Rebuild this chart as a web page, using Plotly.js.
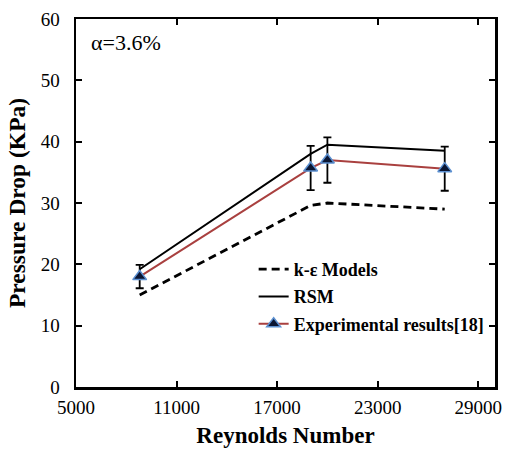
<!DOCTYPE html>
<html>
<head>
<meta charset="utf-8">
<script src="https://cdn.plot.ly/plotly-3.0.1.min.js"></script>
<style>
  html, body { margin: 0; padding: 0; background: #fff; }
  #chart { width: 509px; height: 455px; }
</style>
</head>
<body>
<div id="chart"></div>
<script>
// Reynolds numbers of the runs
const reynolds = [8800, 19000, 20000, 27000];

// Pressure drop (KPa) per model
const kEpsilon = [15.0, 29.6, 30.0, 29.0];
const rsm = [19.2, 38.0, 39.5, 38.5];

// Measured pressure drop and its uncertainty
const experimental = [18.0, 35.7, 37.0, 35.6];
const expError = [1.9, 3.6, 3.7, 3.6];

const xTicks = [5000, 11000, 17000, 23000, 29000];
const yTicks = [0, 10, 20, 30, 40, 50, 60];

const serif = 'Liberation Serif';

const traces = [
  {
    x: reynolds, y: kEpsilon, name: 'k-ε Models',
    mode: 'lines', legendgroup: 'a',
    line: { color: '#000', width: 2.8, dash: '8px,5px' }
  },
  {
    x: reynolds, y: rsm, name: 'RSM',
    mode: 'lines', legendgroup: 'b',
    line: { color: '#000', width: 2 }
  },
  {
    x: reynolds, y: experimental, name: 'Experimental results[18]',
    mode: 'lines+markers', legendgroup: 'c',
    line: { color: '#a9403f', width: 2 },
    marker: { symbol: 'triangle-up', size: 12, color: '#0b1633',
              line: { color: '#5b8fd0', width: 1.5 } },
    error_y: { type: 'data', array: expError, visible: true,
               color: '#000', thickness: 1.8, width: 4 }
  }
];

const layout = {
  width: 509, height: 455,
  margin: { l: 76, r: 14, t: 19, b: 68 },
  paper_bgcolor: '#fff', plot_bgcolor: '#fff',
  font: { family: serif, color: '#000', size: 18, weight: 'normal' },
  showlegend: true,
  legend: {
    x: 0.424, y: 0.37, xanchor: 'left', yanchor: 'top',
    bgcolor: 'rgba(0,0,0,0)', tracegroupgap: 1,
    font: { family: serif, size: 18, color: '#000', weight: 'bold' }
  },
  xaxis: {
    range: [5000, 30000],
    tickvals: xTicks, ticktext: xTicks.map(String),
    ticks: 'inside', ticklen: 6, tickwidth: 2, tickcolor: '#000',
    showline: true, linewidth: 2.5, linecolor: '#000', mirror: 'ticks',
    showgrid: false, zeroline: false,
    ticklabelstandoff: 2,
    tickfont: { family: serif, size: 19, color: '#000', weight: 'normal' },
    title: { text: 'Reynolds Number', standoff: 10,
             font: { family: serif, size: 23, weight: 'bold', color: '#000' } }
  },
  yaxis: {
    range: [0, 60],
    tickvals: yTicks,
    ticks: 'inside', ticklen: 6, tickwidth: 2, tickcolor: '#000',
    showline: true, linewidth: 2.5, linecolor: '#000', mirror: 'ticks',
    showgrid: false, zeroline: false,
    ticklabelstandoff: 10,
    tickfont: { family: serif, size: 19, color: '#000', weight: 'normal' },
    title: { text: 'Pressure Drop (KPa)', standoff: 9,
             font: { family: serif, size: 23.5, weight: 'bold', color: '#000' } }
  },
  annotations: [
    { xref: 'paper', yref: 'paper', x: 0.03, y: 0.975, xanchor: 'left', yanchor: 'top',
      text: 'α=3.6%', showarrow: false,
      font: { family: serif, size: 22, color: '#000', weight: 'normal' } }
  ]
};

Plotly.newPlot('chart', traces, layout, { displayModeBar: false, staticPlot: true });
</script>
</body>
</html>
